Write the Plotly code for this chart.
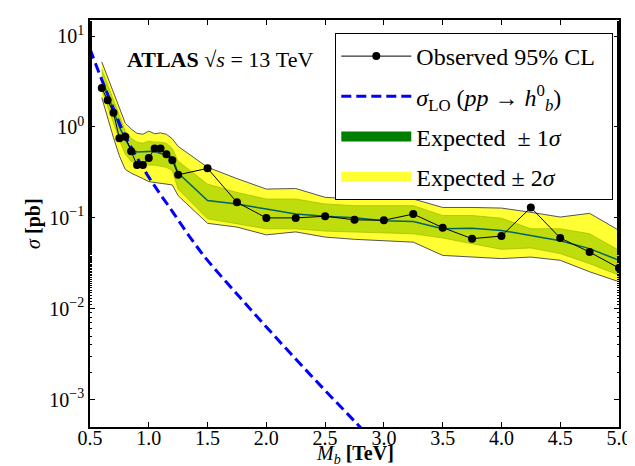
import plotly.graph_objects as go

# ---------------- data ----------------
mass = [0.6, 0.65, 0.7, 0.75, 0.8, 0.85, 0.9, 0.95, 1.0, 1.05, 1.1, 1.15, 1.2, 1.25,
        1.5, 1.75, 2.0, 2.25, 2.5, 2.75, 3.0, 3.25, 3.5, 3.75, 4.0, 4.25, 4.5, 4.75, 5.0]
observed = [2.68, 1.96, 1.43, 0.75, 0.78, 0.54, 0.38, 0.38, 0.456, 0.577, 0.58, 0.50, 0.43, 0.297,
            0.35, 0.148, 0.0998, 0.0998, 0.104, 0.095, 0.094, 0.11, 0.078, 0.059, 0.063, 0.13, 0.060, 0.042, 0.028]
exp_median = [3.3, 2.3, 1.5, 1.0, 0.73, 0.57, 0.53, 0.53, 0.54, 0.54, 0.51, 0.50, 0.46, 0.31,
              0.155, 0.142, 0.125, 0.110, 0.104, 0.100, 0.093, 0.091, 0.0757, 0.077, 0.0727, 0.064, 0.056, 0.0458, 0.0341]
exp_1up = [4.3, 2.9, 1.95, 1.3, 0.90, 0.75, 0.68, 0.66, 0.70, 0.68, 0.68, 0.66, 0.58, 0.42,
           0.235, 0.19, 0.161, 0.161, 0.142, 0.136, 0.136, 0.136, 0.106, 0.106, 0.099, 0.0757, 0.0757, 0.0668, 0.0439]
exp_1dn = [2.6, 1.7, 1.1, 0.72, 0.50, 0.42, 0.40, 0.39, 0.38, 0.38, 0.37, 0.36, 0.33, 0.207,
           0.0975, 0.086, 0.0757, 0.0757, 0.0714, 0.069, 0.068, 0.0668, 0.060, 0.052, 0.045, 0.0466, 0.0404, 0.0313, 0.0234]
exp_2up = [5.2, 3.5, 2.4, 1.64, 1.10, 0.95, 0.85, 0.83, 0.90, 0.84, 0.86, 0.83, 0.74, 0.61,
           0.36, 0.27, 0.207, 0.21, 0.168, 0.161, 0.163, 0.161, 0.13, 0.13, 0.128, 0.115, 0.102, 0.112, 0.0727]
exp_2dn = [2.1, 1.3, 0.76, 0.48, 0.34, 0.31, 0.29, 0.27, 0.25, 0.245, 0.24, 0.235, 0.23, 0.175,
           0.087, 0.079, 0.065, 0.070, 0.0614, 0.058, 0.056, 0.054, 0.0386, 0.037, 0.0356, 0.037, 0.0341, 0.0255, 0.0198]

theory_mass = [0.5, 0.6, 0.7, 0.8, 0.9, 1.0, 1.1, 1.2, 1.3, 1.4, 1.5, 1.75, 2.0, 2.25, 2.5, 2.75, 3.0]
theory_xsec = [7.2, 3.3, 1.58, 0.79, 0.46, 0.28, 0.18, 0.118, 0.076, 0.050, 0.034, 0.0145, 0.0063,
               0.0028, 0.00126, 0.00058, 0.00026]

x_tickvals = [0.5, 1.0, 1.5, 2.0, 2.5, 3.0, 3.5, 4.0, 4.5, 5.0]
x_ticktext = ["0.5", "1.0", "1.5", "2.0", "2.5", "3.0", "3.5", "4.0", "4.5", "5.0"]
y_tickvals = [1e-3, 1e-2, 1e-1, 1, 10]
y_ticktext = ["10<sup>−3</sup>", "10<sup>−2</sup>", "10<sup>−1</sup>", "10<sup>0</sup>", "10<sup>1</sup>"]

legend_names = ["Observed 95% CL\u00a0\u00a0",
                "<i>σ</i><sub>LO</sub> (<i>pp</i> → <i>h</i><sup>0</sup><sub><i>b</i></sub>)",
                "Expected \u00a0± 1<i>σ</i>",
                "Expected ± 2<i>σ</i>"]

FONT = "Liberation Serif"
YELLOW = "#ffff33"
LIME = "#bfdc0d"

fig = go.Figure()

# +-2 sigma band (polygon)
fig.add_trace(go.Scatter(
    x=mass + mass[::-1], y=exp_2up + exp_2dn[::-1],
    fill="toself", fillcolor=YELLOW, mode="lines",
    line=dict(color="#555555", width=1), showlegend=False, hoverinfo="skip"))
# +-1 sigma band
fig.add_trace(go.Scatter(
    x=mass + mass[::-1], y=exp_1up + exp_1dn[::-1],
    fill="toself", fillcolor=LIME, mode="lines",
    line=dict(color="#a9c200", width=0.8), showlegend=False, hoverinfo="skip"))
# expected median
fig.add_trace(go.Scatter(
    x=mass, y=exp_median, mode="lines",
    line=dict(color="#006464", width=1.5), showlegend=False))
# theory
fig.add_trace(go.Scatter(
    x=theory_mass, y=theory_xsec, mode="lines", line_shape="spline",
    line=dict(color="#0000ff", width=3, dash="10px,5px"), showlegend=False))
# observed
fig.add_trace(go.Scatter(
    x=mass, y=observed, mode="lines+markers",
    line=dict(color="black", width=1), marker=dict(color="black", size=8),
    name=legend_names[0], legendgroup="a", legendrank=1))

# legend-only entries
fig.add_trace(go.Scatter(
    x=[None], y=[None], mode="lines",
    line=dict(color="#0000ff", width=3, dash="10px,5px"),
    name=legend_names[1], legendgroup="b", legendrank=2))
fig.add_trace(go.Scatter(
    x=[None], y=[None], mode="lines",
    line=dict(color="#007f00", width=16), name=legend_names[2],
    legendgroup="c", legendrank=3))
fig.add_trace(go.Scatter(
    x=[None], y=[None], mode="lines",
    line=dict(color="#ffff33", width=16), name=legend_names[3],
    legendgroup="d", legendrank=4))

fig.add_annotation(
    xref="paper", yref="paper", x=0.067, y=0.902, xanchor="left", yanchor="middle",
    text="<b>ATLAS</b> √<i>s</i>\u00a0=\u00a013\u00a0TeV", showarrow=False,
    font=dict(family=FONT, size=22, color="black"))
fig.add_annotation(
    xref="paper", yref="paper", x=0.5, y=-0.068, xanchor="center", yanchor="middle",
    text="<i>M</i><sub><i>b</i></sub> <b>[TeV]</b>", showarrow=False,
    font=dict(family=FONT, size=20, color="black"))
fig.add_annotation(
    xref="paper", yref="paper", x=-0.107, y=0.5, xanchor="center", yanchor="middle",
    text="<i>σ</i> <b>[pb]</b>", textangle=-90, showarrow=False,
    font=dict(family=FONT, size=20, color="black"))

axis_common = dict(showline=True, linecolor="black", linewidth=1.5, mirror="ticks",
                   ticks="inside", tickcolor="black", showgrid=False, zeroline=False,
                   tickfont=dict(family=FONT, size=20, color="black"))

fig.update_layout(
    width=635, height=466,
    margin=dict(l=82, r=24, t=10, b=47),
    paper_bgcolor="white", plot_bgcolor="white",
    font=dict(family=FONT, size=20, color="black"),
    showlegend=True,
    legend=dict(x=0.4637, y=0.968, xanchor="left", yanchor="top",
                bgcolor="white", bordercolor="black", borderwidth=1,
                font=dict(family=FONT, size=24, color="black"),
                tracegroupgap=6, itemwidth=70, traceorder="grouped"),
    xaxis=dict(range=[0.5, 5.0], tickvals=x_tickvals, ticktext=x_ticktext, ticklen=5,
               ticklabelstandoff=-8, **axis_common),
    yaxis=dict(type="log", range=[-3.301, 1.176], tickvals=y_tickvals, ticktext=y_ticktext,
               ticklen=5,
               minor=dict(ticks="inside", ticklen=2.5, tickcolor="black", showgrid=False),
               **axis_common),
)

fig.write_html("out.html")
